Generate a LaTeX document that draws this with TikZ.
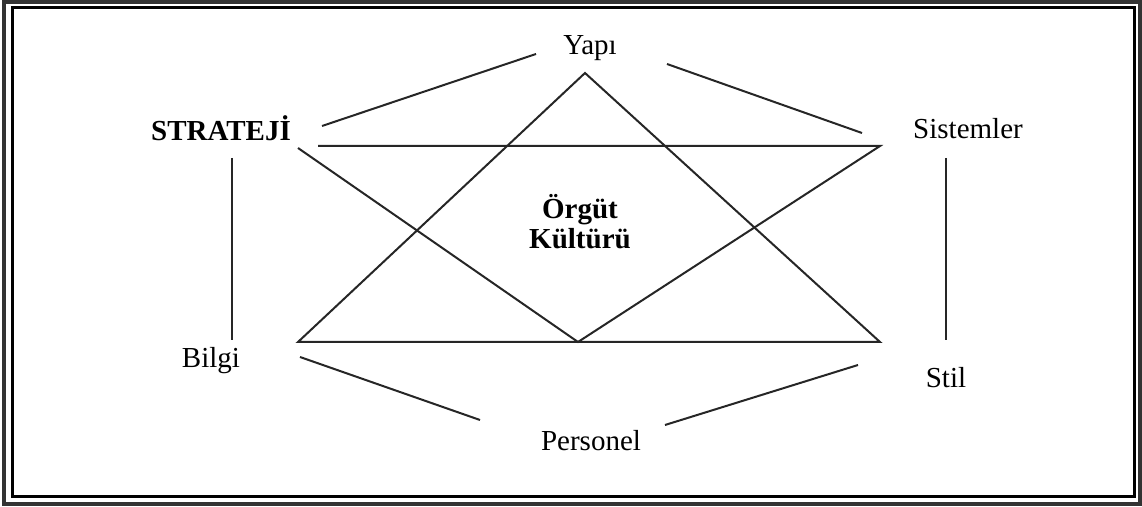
\documentclass[tikz,border=0pt]{standalone}
\usepackage{fontspec}
\setmainfont{Liberation Serif}
\begin{document}
\begin{tikzpicture}[x=0.5pt,y=-0.5pt,
  lbl/.style={inner sep=0pt,font=\fontsize{14.5}{17}\selectfont},
  blbl/.style={lbl,font=\fontsize{14.5}{17}\selectfont\bfseries},
  ln/.style={line width=1pt,draw=black!85}]
\useasboundingbox (0,0) rectangle (1142,507);
% double frame
\draw[line width=2pt,black!80] (4,2) rectangle (1140,504);
\draw[line width=1.5pt,black] (12,8) rectangle (1134,497);
% labels
\node[lbl] (yapi) at (590,48) {Yapı};
\node[blbl] (strateji) at (221,128) {STRATEJİ};
\node[lbl] (sistem) at (968,129) {Sistemler};
\node[lbl] (bilgi) at (211,361) {Bilgi};
\node[lbl] (stil) at (946,378) {Stil};
\node[lbl] (personel) at (591,441) {Personel};
\node[blbl,align=center] (kultur) at (580,222) {Örgüt\\[-2pt]Kültürü};
% anchor points of the star
\coordinate (apex) at (585,73);
\coordinate (bl) at (298,342);
\coordinate (br) at (880,342);
\coordinate (bm) at (578,342);
\coordinate (tl) at (318,146);
\coordinate (tr) at (880,146);
\coordinate (tl2) at (298,148);
% outer hexagon links
\coordinate (a1) at (322,126); \coordinate (a2) at (536,54);
\coordinate (b1) at (667,64);  \coordinate (b2) at (862,133);
\coordinate (c1) at (232,158); \coordinate (c2) at (232,340);
\coordinate (d1) at (946,158); \coordinate (d2) at (946,340);
\coordinate (e1) at (300,357); \coordinate (e2) at (480,420);
\coordinate (f1) at (665,425); \coordinate (f2) at (858,365);
\draw[ln] (a1) -- (a2);
\draw[ln] (b1) -- (b2);
\draw[ln] (c1) -- (c2);
\draw[ln] (d1) -- (d2);
\draw[ln] (e1) -- (e2);
\draw[ln] (f1) -- (f2);
% upward triangle
\draw[ln] (apex) -- (bl) -- (br) -- cycle;
% downward triangle
\draw[ln] (tl) -- (tr) -- (bm) -- (tl2);
\end{tikzpicture}
\end{document}
